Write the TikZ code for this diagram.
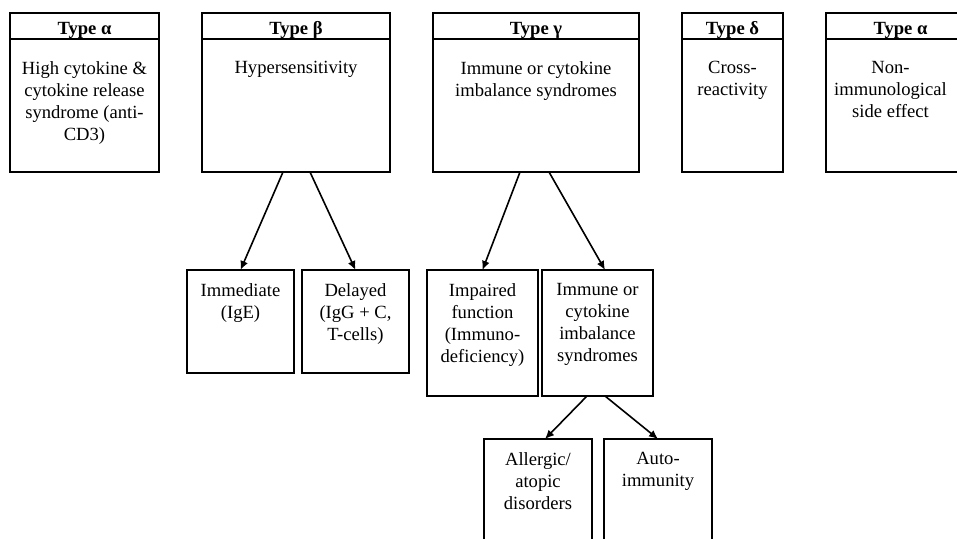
\documentclass[tikz,border=0pt]{standalone}
\usepackage{fontspec}
\setmainfont{Liberation Serif}
\usetikzlibrary{arrows.meta, positioning}
\tikzset{
    head/.style={rectangle, draw, minimum height=13pt, inner sep=0pt, outer sep=0pt, text height=9pt, text depth=0pt, font=\fontsize{9.3}{11}\selectfont\bfseries},
    body/.style={rectangle, draw, minimum height=66.5pt, inner sep=0pt, outer sep=0pt},
    sub/.style={rectangle, draw, minimum height=51.5pt, inner sep=0pt, outer sep=0pt},
    toptxt/.style={align=center, inner sep=0pt, below=11pt},
    subtxt/.style={align=center, inner sep=0pt, below=6.5pt},
    arrow/.style={-{Latex[length=4.5pt, width=4pt]}, line width=0.8pt},
}

\begin{document}
\begin{tikzpicture}[font=\fontsize{9.3}{11}\selectfont, line width=0.6pt, node distance=21.5pt]
    \useasboundingbox (0,0) rectangle (478.5pt,-269.5pt);
    % top row: header + body per type
    \node[head, minimum width=74.5pt, anchor=north west] (hA) at (5pt,-6.5pt) {Type α};
    \node[body, minimum width=74.5pt, below=0pt of hA, label={[toptxt]north:{High cytokine \&\\cytokine release\\syndrome (anti-\\CD3)}}] (bA) {};
    \node[head, minimum width=94pt, right=of hA] (hB) {Type β};
    \node[body, minimum width=94pt, below=0pt of hB, label={[toptxt]north:{Hypersensitivity}}] (bB) {};
    \node[head, minimum width=103pt, right=of hB] (hG) {Type γ};
    \node[body, minimum width=103pt, below=0pt of hG, label={[toptxt]north:{Immune or cytokine\\imbalance syndromes}}] (bG) {};
    \node[head, minimum width=50.5pt, right=of hG] (hD) {Type δ};
    \node[body, minimum width=50.5pt, below=0pt of hD, label={[toptxt]north:{Cross-\\reactivity}}] (bD) {};
    \node[head, minimum width=74.5pt, right=of hD] (hN) {Type α};
    \node[body, minimum width=74.5pt, below=0pt of hN, label={[toptxt, xshift=-5pt]north:{Non-\\immunological\\side effect}}] (bN) {};
    % second row
    \node[sub, minimum width=53.5pt, anchor=north west, label={[subtxt]north:{Immediate\\(IgE)}}] (imm) at (93.5pt,-135pt) {};
    \node[sub, minimum width=53.5pt, right=4pt of imm, label={[subtxt]north:{Delayed\\(IgG + C,\\T-cells)}}] (del) {};
    \node[sub, minimum width=55.5pt, minimum height=63pt, anchor=north west, label={[subtxt]north:{Impaired\\function\\(Immuno-\\deficiency)}}] (imp) at (213.5pt,-135pt) {};
    \node[sub, minimum width=55.5pt, minimum height=63pt, right=2pt of imp, label={[subtxt]north:{Immune or\\cytokine\\imbalance\\syndromes}}] (imb) {};
    % third row
    \node[sub, minimum width=54pt, minimum height=63pt, anchor=north west, label={[subtxt]north:{Allergic/\\atopic\\disorders}}] (all) at (242pt,-219.5pt) {};
    \node[sub, minimum width=54pt, minimum height=63pt, right=6pt of all, label={[subtxt]north:{Auto-\\immunity}}] (aut) {};
    \draw[arrow] ([xshift=-6.5pt]bB.south) -- (imm.north);
    \draw[arrow] ([xshift=7pt]bB.south) -- (del.north);
    \draw[arrow] ([xshift=-8pt]bG.south) -- (imp.north);
    \draw[arrow] ([xshift=6.5pt]bG.south) -- ([xshift=3.75pt]imb.north);
    \draw[arrow] ([xshift=-5.25pt]imb.south) -- ([xshift=3.5pt]all.north);
    \draw[arrow] ([xshift=3.75pt]imb.south) -- (aut.north);
\end{tikzpicture}
\end{document}
